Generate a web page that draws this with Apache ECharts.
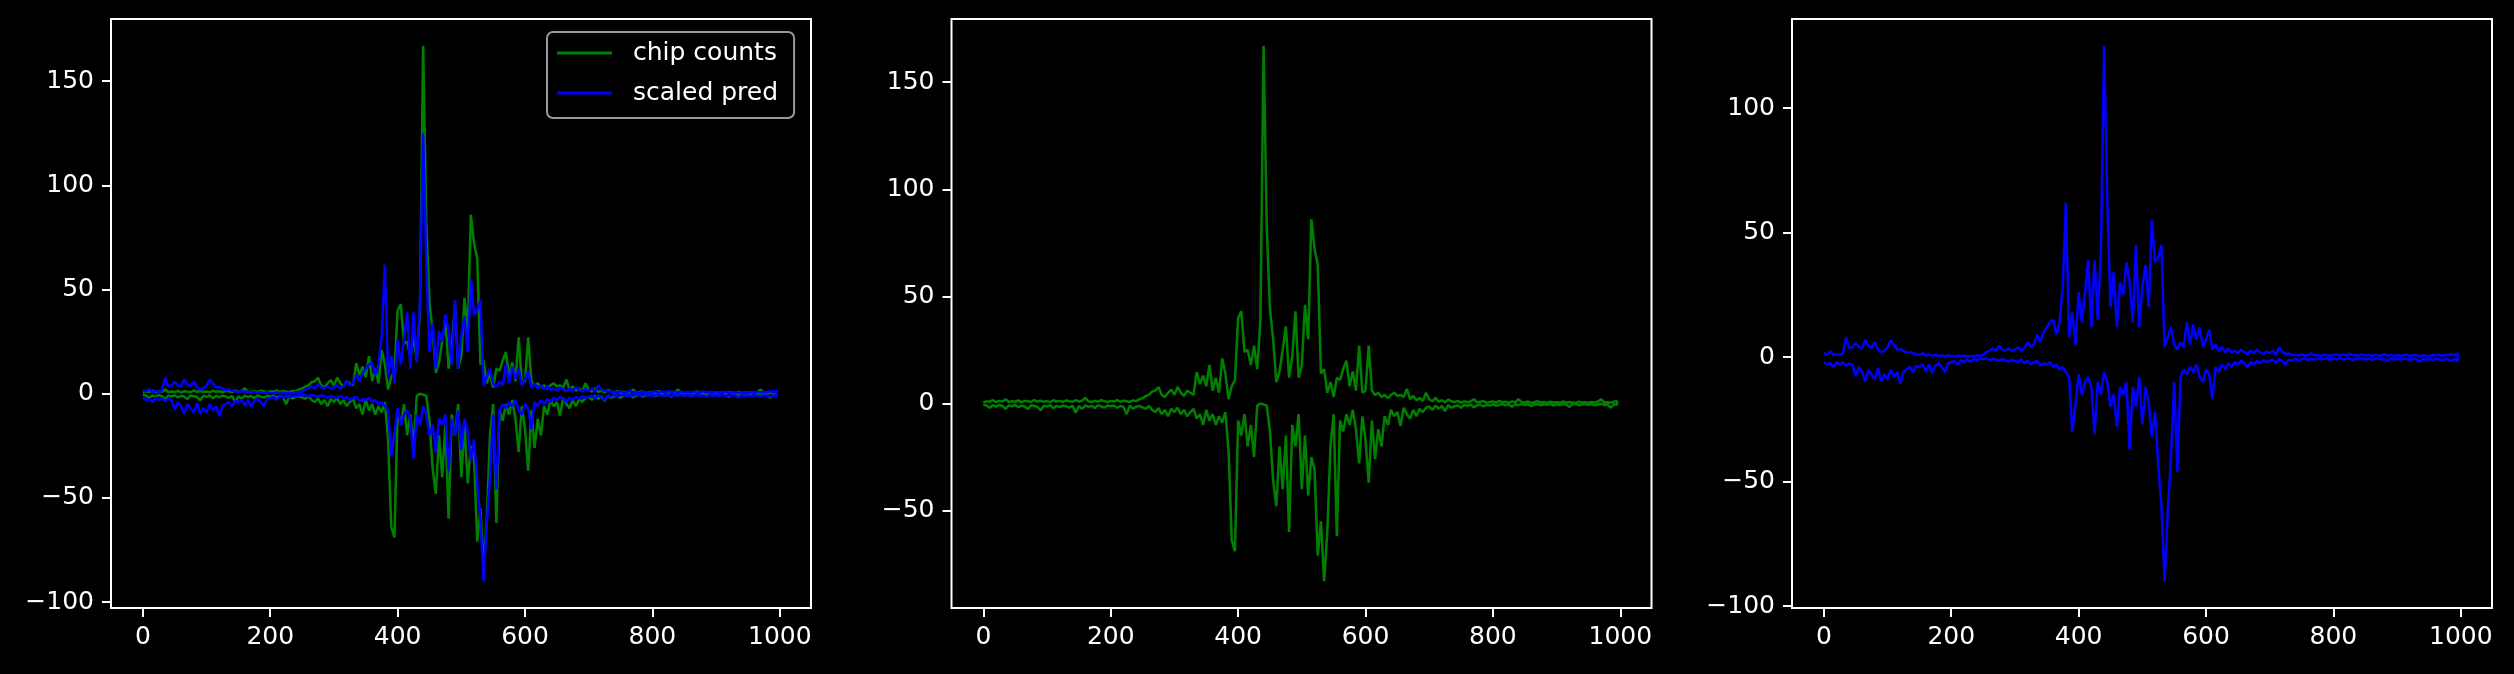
<!DOCTYPE html>
<html>
<head>
<meta charset="utf-8">
<script src="https://cdn.jsdelivr.net/npm/echarts@6/dist/echarts.min.js"></script>
<style>
html,body{margin:0;padding:0;background:#000;}
#c{width:2514px;height:674px;}
</style>
</head>
<body>
<div id="c"></div>
<script>
// sample spacing of the read-off values (every 5th position)
const SAMPLE_STEP = 5;

// chip counts: forward (upper) band and reverse (lower) band
const greenUp = [
0.5,1,0.8,1.5,0.6,1.2,0.9,2,0.7,1.1,
0.8,1.4,0.6,1.2,1,0.7,1.6,0.9,1.3,0.8,
1.1,0.6,1.5,0.9,1.2,0.7,1.4,1,0.8,1.6,
0.9,1.3,2.6,1,0.7,1.2,0.8,1.5,1.1,0.6,
1.2,0.9,1.6,0.8,1.3,1,0.7,1.4,1.1,2,
2.5,3.5,4,5.5,6,7.7,4,3,5,6.5,
4,7.7,5,3.5,6,5,4,14.7,9,13,
8,18,6,12,5,21,14,2,8,11,
40,43,24,25,18,27,16,39,167,82,
44,30,10,15,25,36,12,22,43,12,
18,46,30,86,72,65,14,16,5,10,
3,12,11,16,20,8,15,6,27,5,
6,27,6,4,5,3,4,2.5,4,5,
3.5,4,3,6.8,2,3.5,1.5,2.5,1.2,5,
2,1,2.6,0.8,1.5,0.5,1.8,1,0.6,1.2,
0.4,1,0.6,0.9,2,0.5,0.8,1.1,0.3,0.7,
0.9,0.4,1.2,0.6,0.8,0.3,1,0.5,2,0.7,
0.5,0.9,0.3,0.6,1.1,0.4,0.7,0.2,0.8,0.5,
0.6,0.3,0.9,0.4,0.7,0.5,0.2,0.8,0.4,0.6,
0.3,0.7,0.5,0.9,2,0.4,0.6,0.3,0.8,1.2
];
const greenDn = [
-0.5,-1,-2,-0.8,-1.5,-0.6,-1.2,-2.5,-0.9,-1.3,
-0.7,-1.8,-1,-1.4,-2.6,-0.8,-1.2,-1.6,-3.2,-1,
-1.5,-0.8,-2.2,-1.1,-1.7,-0.9,-1.3,-2,-1,-4.3,
-1.2,-2.5,-0.9,-1.6,-1.1,-2.1,-0.8,-1.4,-1.9,-1,
-1.3,-0.9,-2,-1.2,-1.6,-5,-1.1,-2.4,-1.5,-1.2,
-1.8,-2.5,-1.2,-3,-4,-2.2,-5,-3,-6,-2.5,
-4,-2,-5,-3,-6,-4,-2.5,-7,-5,-10,
-3,-8,-5,-10,-6,-9,-4,-22,-64,-69,
-8,-15,-5,-20,-10,-25,-1,0,-0.5,-1,
-13,-36,-48,-20,-40,-15,-60,-10,-20,-5,
-40,-15,-43,-25,-31,-71,-55,-83,-60,-20,
-5,-62,-8,-13,-5,-10,-3,-12,-28,-6,
-17,-37,-8,-26,-12,-20,-6,-10,-3,-6,
-4,-10.5,-2,-5,-7,-3,-6,-2.5,-4,-2,
-1.5,-3,-1,-2.4,-1.2,-3.5,-0.8,-2,-1.3,-1,
-2,-0.6,-1.2,-0.4,-1.8,-0.9,-0.5,-1.4,-0.7,-1,
-0.4,-1.1,-0.6,-0.3,-0.9,-0.5,-1.5,-0.4,-0.8,-0.3,
-0.7,-0.4,-1.2,-0.5,-0.3,-0.9,-0.4,-0.6,-0.2,-1,
-0.4,-0.7,-0.3,-0.5,-1.6,-0.4,-0.2,-0.8,-0.5,-0.3,
-0.6,-0.3,-0.9,-0.4,-0.2,-0.7,-0.5,-2,-0.4,-0.6
];
// scaled pred: forward (upper) band and reverse (lower) band
const blueUp = [
1.7,1,2.3,0.8,1.2,0.9,1.5,8,3.5,4,
5.7,4,3.5,7,4.5,3.7,6,3,2,2.5,
4,6.8,5,3,3.2,2.5,1.7,2,1.5,1.2,
0.8,1.5,0.6,1.1,0.5,0.9,0.4,0.7,0.3,0.6,
0.4,0.2,0.6,0.3,0.5,0.2,0.4,0.3,0.7,0.5,
1,2,2.5,3.5,2.5,4.6,3,2.5,3.5,2.5,
3,4,2.5,3.5,6,4,5,9,6,10,
12,14,15,9,14,28,62,8,18,5,
26,14,26,39,12,39,15,43,125,63,
20,34,12,30,25,38,30,14,45,12,
28,37,20,55,38,40,45,4,8,12,
5,3,6,4,14,5,13,7,12,4,
7,11,3,5,2.5,4,2,3.5,2,2.5,
1.5,3,2,1.2,2.5,1.5,3,1.8,1.2,2.2,
1.5,2.5,1,4,2,1.2,1.5,0.8,1,0.6,
1.2,0.5,0.8,1.5,0.6,0.9,0.4,1,0.7,0.5,
0.8,1.2,0.5,1,0.6,1.4,0.7,0.9,0.5,1.1,
0.6,0.9,0.4,1,0.7,0.5,1.2,0.6,0.8,0.4,
0.9,0.5,0.7,1,0.4,0.8,0.6,0.3,0.7,0.5,
0.4,0.8,0.6,1,0.5,0.9,0.7,1.2,0.8,1.5
];
const blueDn = [
-2,-3,-2.5,-4,-2,-3,-2.2,-3.5,-2.5,-3,
-7.7,-4,-6,-9.7,-5,-7,-9,-4.5,-9.7,-7,
-9,-5,-8,-6,-10.7,-6,-5,-4,-6,-3.5,
-4,-3,-5.7,-3,-6.4,-3.5,-2.5,-4,-6,-2.5,
-2,-1.5,-3,-1.2,-2,-1,-1.8,-0.8,-1.2,-0.6,
-0.8,-0.5,-1.2,-0.6,-1,-1.5,-0.7,-1.2,-2,-1,
-1.5,-2,-1,-2.5,-1.5,-3,-2,-1.5,-3.5,-2.5,
-3,-2,-4,-3,-5,-4,-6,-8,-30,-19,
-7,-15,-10,-8,-12,-31,-10,-15,-6,-10,
-20,-15,-28,-12,-15,-10,-37,-12,-20,-8,
-27,-12,-18,-32,-22,-43,-60,-90,-62,-40,
-10,-46,-8,-5,-7,-4,-6,-3,-8,-10,
-5,-7,-17,-4,-6,-3,-5,-2.5,-4,-2,
-3,-1.5,-2.5,-4,-2,-3,-1.5,-2.5,-1.2,-2,
-1.5,-1,-2.2,-0.8,-1.6,-3,-1,-1.4,-0.6,-1.2,
-0.8,-0.5,-1.2,-0.6,-1,-0.4,-0.9,-0.7,-0.5,-1.1,
-0.6,-0.9,-0.4,-1,-0.7,-0.5,-1.2,-0.6,-0.8,-0.5,
-0.9,-0.6,-1.1,-0.7,-0.5,-1,-0.8,-1.5,-0.6,-0.9,
-0.7,-1,-0.5,-0.8,-1.2,-0.6,-0.9,-1.8,-0.7,-1,
-0.8,-1.1,-0.6,-0.9,-1.3,-0.7,-1,-1.5,-0.8,-1.5
];

const xTicks = [0, 200, 400, 600, 800, 1000];
const yTicks1 = [-100, -50, 0, 50, 100, 150];
const yTicks2 = [-50, 0, 50, 100, 150];
const yTicks3 = [-100, -50, 0, 50, 100];
const seriesNames = ['chip counts', 'scaled pred'];

// build [x, y] pairs: upper band left-to-right, then lower band right-to-left
function pairs(up, dn) {
  const out = [];
  up.forEach((v, i) => out.push([i * SAMPLE_STEP, v]));
  for (let i = dn.length - 1; i >= 0; i--) out.push([i * SAMPLE_STEP, dn[i]]);
  return out;
}
function ylim(arrs) {
  let lo = Infinity, hi = -Infinity;
  arrs.forEach(a => a.forEach(v => { lo = Math.min(lo, v); hi = Math.max(hi, v); }));
  const m = (hi - lo) * 0.05;
  return [lo - m, hi + m];
}

const FONT = 'DejaVu Sans';
const fmt = v => String(v).replace('-', '\u2212');
const grids = [
  {left: 111, top: 19, width: 700, height: 589},
  {left: 951.5, top: 19, width: 700, height: 589},
  {left: 1792, top: 19, width: 700, height: 589}
];
const lims = [ylim([greenUp, greenDn, blueUp, blueDn]), ylim([greenUp, greenDn]), ylim([blueUp, blueDn])];
const yTickSets = [yTicks1, yTicks2, yTicks3];

const option = {
  backgroundColor: '#000',
  animation: false,
  textStyle: {fontFamily: FONT},
  grid: grids.map(g => Object.assign({show: true, borderColor: '#fff', borderWidth: 2, backgroundColor: '#000', containLabel: false}, g)),
  xAxis: grids.map((g, i) => ({
    type: 'value', gridIndex: i, min: -50, max: 1049, position: 'bottom',
    splitLine: {show: false},
    axisLine: {show: false, onZero: false},
    axisTick: {show: true, inside: false, length: 9, lineStyle: {color: '#fff', width: 2}, customValues: xTicks},
    axisLabel: {color: '#fff', fontSize: 25, fontFamily: FONT, margin: 17, customValues: xTicks, formatter: fmt}
  })),
  yAxis: grids.map((g, i) => ({
    type: 'value', gridIndex: i, min: lims[i][0], max: lims[i][1], position: 'left',
    splitLine: {show: false},
    axisLine: {show: false, onZero: false},
    axisTick: {show: true, inside: false, length: 9, lineStyle: {color: '#fff', width: 2}, customValues: yTickSets[i]},
    axisLabel: {color: '#fff', fontSize: 25, fontFamily: FONT, margin: 17, customValues: yTickSets[i], formatter: fmt}
  })),
  legend: {
    data: seriesNames,
    orient: 'vertical',
    left: 547, top: 32,
    padding: [8, 16, 12, 10],
    itemGap: 14,
    itemWidth: 55, itemHeight: 3,
    icon: 'rect',
    backgroundColor: 'rgba(0,0,0,0.8)',
    borderColor: '#999', borderWidth: 2, borderRadius: 6,
    textStyle: {color: '#fff', fontSize: 25, fontFamily: FONT, padding: [0, 0, 0, 16], lineHeight: 26}
  },
  series: [
    {name: seriesNames[0], type: 'line', xAxisIndex: 0, yAxisIndex: 0, data: pairs(greenUp, greenDn), showSymbol: false, symbol: 'none', color: '#008000', lineStyle: {color: '#008000', width: 2.5}},
    {name: seriesNames[1], type: 'line', xAxisIndex: 0, yAxisIndex: 0, data: pairs(blueUp, blueDn), showSymbol: false, symbol: 'none', color: '#0000ff', lineStyle: {color: '#0000ff', width: 2.5}},
    {name: 'chip counts (alone)', type: 'line', xAxisIndex: 1, yAxisIndex: 1, data: pairs(greenUp, greenDn), showSymbol: false, symbol: 'none', color: '#008000', lineStyle: {color: '#008000', width: 2.5}},
    {name: 'scaled pred (alone)', type: 'line', xAxisIndex: 2, yAxisIndex: 2, data: pairs(blueUp, blueDn), showSymbol: false, symbol: 'none', color: '#0000ff', lineStyle: {color: '#0000ff', width: 2.5}}
  ]
};

const chart = echarts.init(document.getElementById('c'), null, {renderer: 'canvas'});
chart.setOption(option);
</script>
</body>
</html>
